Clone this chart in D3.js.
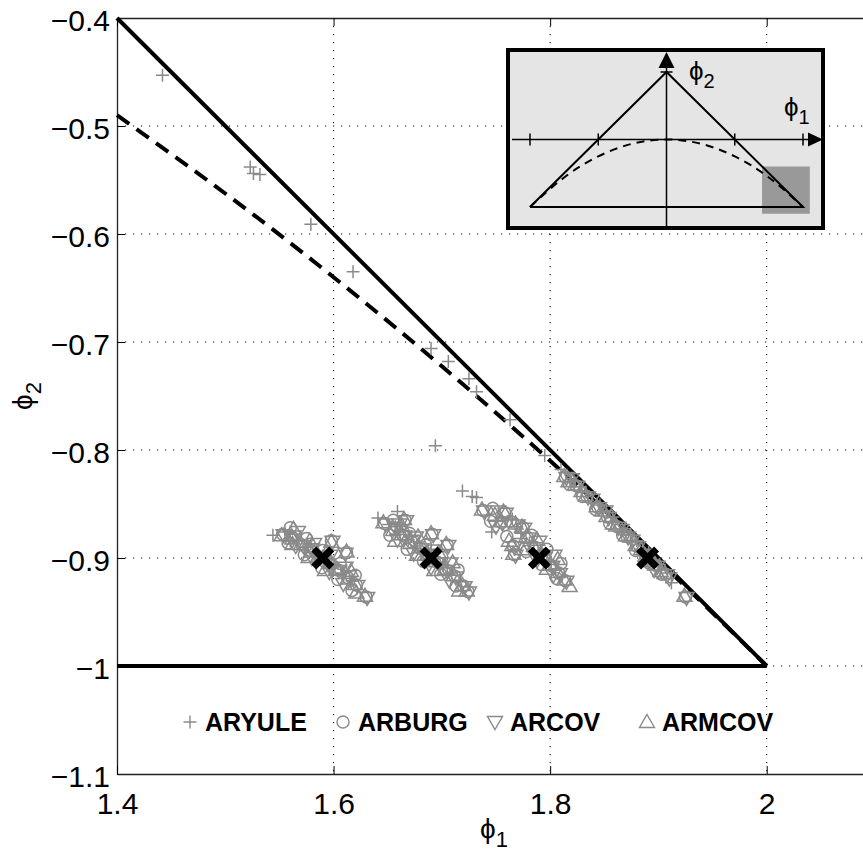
<!DOCTYPE html>
<html>
<head>
<meta charset="utf-8">
<script src="https://cdn.jsdelivr.net/npm/d3@7"></script>
<style>
  body { margin: 0; background: #fff; }
  svg { display: block; font-family: "Liberation Sans", Arial, sans-serif; }
</style>
</head>
<body>
<svg id="chart" width="863" height="853"></svg>
<script>
// ---- data ----
var xTicks = [1.4, 1.6, 1.8, 2.0];
var xTickLabels = ["1.4", "1.6", "1.8", "2"];
var yTicks = [-0.4, -0.5, -0.6, -0.7, -0.8, -0.9, -1.0, -1.1];
var yTickLabels = ["\u22120.4", "\u22120.5", "\u22120.6", "\u22120.7", "\u22120.8", "\u22120.9", "\u22121", "\u22121.1"];

// stationarity boundary (solid) and real/complex root boundary (dashed)
var triangleSide = [[1.4, -0.4], [2.0, -1.0]];
var triangleBase = [[1.4, -1.0], [2.0, -1.0]];
var dashedPhi1 = [1.4, 1.5, 1.6, 1.7, 1.8, 1.9, 2.0];
var dashedPhi2 = [-0.49, -0.5625, -0.64, -0.7225, -0.81, -0.9025, -1.0];

// true parameters
var truePoints = [[1.59, -0.9], [1.69, -0.9], [1.79, -0.9], [1.89, -0.9]];

var aryule = [
  [1.442, -0.453], [1.523, -0.538], [1.526, -0.544], [1.532, -0.545], [1.579, -0.591],
  [1.618, -0.635], [1.690, -0.706], [1.706, -0.718], [1.725, -0.734], [1.732, -0.746],
  [1.694, -0.796], [1.719, -0.838], [1.728, -0.843], [1.763, -0.772], [1.795, -0.805],
  [1.544, -0.879], [1.555, -0.876], [1.566, -0.884], [1.575, -0.890], [1.583, -0.896],
  [1.591, -0.902], [1.600, -0.908], [1.608, -0.914], [1.617, -0.921],
  [1.560, -0.884], [1.579, -0.887], [1.596, -0.910], [1.612, -0.912],
  [1.641, -0.863], [1.659, -0.857], [1.651, -0.869], [1.661, -0.876], [1.669, -0.883],
  [1.677, -0.889], [1.685, -0.894], [1.693, -0.901], [1.701, -0.907], [1.709, -0.914], [1.716, -0.921],
  [1.657, -0.871], [1.672, -0.880], [1.690, -0.892], [1.705, -0.909],
  [1.732, -0.844], [1.746, -0.876], [1.765, -0.864], [1.773, -0.877], [1.781, -0.886],
  [1.789, -0.894], [1.797, -0.903], [1.805, -0.911],
  [1.769, -0.871], [1.785, -0.893], [1.801, -0.904],
  [1.810, -0.818], [1.822, -0.829], [1.833, -0.839], [1.846, -0.851], [1.858, -0.862],
  [1.869, -0.873], [1.880, -0.884], [1.891, -0.895], [1.901, -0.906], [1.912, -0.923],
  [1.827, -0.834], [1.852, -0.856], [1.874, -0.879], [1.896, -0.902]
];
var arburg = [
  [1.553, -0.878], [1.562, -0.881], [1.571, -0.888], [1.579, -0.893], [1.587, -0.899], [1.596, -0.905],
  [1.598, -0.884], [1.604, -0.911], [1.612, -0.895], [1.613, -0.918], [1.621, -0.925], [1.630, -0.936],
  [1.560, -0.872], [1.575, -0.882], [1.590, -0.893], [1.606, -0.905], [1.620, -0.916],
  [1.558, -0.886], [1.573, -0.897], [1.589, -0.909], [1.604, -0.920], [1.617, -0.930],
  [1.647, -0.868], [1.656, -0.873], [1.666, -0.865], [1.664, -0.879], [1.672, -0.885], [1.680, -0.891],
  [1.688, -0.897], [1.691, -0.878], [1.696, -0.904], [1.705, -0.888], [1.704, -0.911], [1.712, -0.917],
  [1.720, -0.926], [1.724, -0.931],
  [1.655, -0.865], [1.670, -0.877], [1.685, -0.888], [1.700, -0.899], [1.715, -0.911],
  [1.652, -0.879], [1.668, -0.892], [1.683, -0.903], [1.699, -0.915], [1.713, -0.926],
  [1.738, -0.856], [1.758, -0.858], [1.755, -0.867], [1.775, -0.872], [1.766, -0.889], [1.767, -0.897],
  [1.779, -0.881], [1.786, -0.890], [1.794, -0.899], [1.801, -0.907], [1.808, -0.914], [1.814, -0.921],
  [1.747, -0.854], [1.763, -0.866], [1.783, -0.879], [1.797, -0.892], [1.810, -0.905],
  [1.745, -0.866], [1.760, -0.880], [1.778, -0.894], [1.792, -0.906], [1.806, -0.919],
  [1.814, -0.825], [1.824, -0.833], [1.834, -0.843], [1.844, -0.853], [1.853, -0.862], [1.862, -0.871],
  [1.871, -0.880], [1.880, -0.889], [1.889, -0.899], [1.898, -0.907], [1.907, -0.915], [1.925, -0.936],
  [1.818, -0.832], [1.830, -0.843], [1.842, -0.855], [1.855, -0.868], [1.867, -0.879], [1.879, -0.893],
  [1.892, -0.905], [1.903, -0.915]
];
var arcov = [
  [1.554, -0.879], [1.563, -0.880], [1.572, -0.889], [1.580, -0.892], [1.588, -0.900], [1.595, -0.906],
  [1.599, -0.885], [1.605, -0.912], [1.611, -0.896], [1.614, -0.917], [1.622, -0.926], [1.631, -0.937],
  [1.567, -0.876], [1.582, -0.887], [1.597, -0.898], [1.611, -0.909],
  [1.565, -0.889], [1.580, -0.900], [1.596, -0.913], [1.609, -0.924],
  [1.648, -0.869], [1.657, -0.872], [1.667, -0.866], [1.665, -0.880], [1.673, -0.884], [1.681, -0.892],
  [1.689, -0.898], [1.692, -0.879], [1.697, -0.905], [1.706, -0.889], [1.705, -0.912], [1.713, -0.918],
  [1.721, -0.927], [1.725, -0.932],
  [1.661, -0.869], [1.676, -0.881], [1.693, -0.893], [1.708, -0.905],
  [1.659, -0.883], [1.674, -0.896], [1.690, -0.909], [1.707, -0.921],
  [1.739, -0.857], [1.759, -0.859], [1.756, -0.868], [1.776, -0.873], [1.767, -0.890], [1.768, -0.898],
  [1.780, -0.882], [1.787, -0.891], [1.795, -0.900], [1.802, -0.908], [1.809, -0.915], [1.815, -0.922],
  [1.752, -0.857], [1.770, -0.870], [1.790, -0.885], [1.804, -0.898],
  [1.750, -0.871], [1.772, -0.887], [1.788, -0.902], [1.803, -0.916],
  [1.815, -0.826], [1.825, -0.834], [1.835, -0.844], [1.845, -0.854], [1.854, -0.863], [1.863, -0.872],
  [1.872, -0.881], [1.881, -0.890], [1.890, -0.900], [1.899, -0.908], [1.908, -0.916], [1.926, -0.937],
  [1.820, -0.827], [1.839, -0.846], [1.851, -0.857], [1.866, -0.874], [1.876, -0.884], [1.886, -0.897],
  [1.896, -0.911], [1.910, -0.919]
];
var armcov = [
  [1.552, -0.879], [1.562, -0.882], [1.570, -0.887], [1.579, -0.894], [1.586, -0.898], [1.597, -0.904],
  [1.598, -0.885], [1.603, -0.910], [1.612, -0.894], [1.613, -0.919], [1.620, -0.924], [1.629, -0.935],
  [1.563, -0.873], [1.578, -0.884], [1.593, -0.896], [1.616, -0.912],
  [1.562, -0.887], [1.577, -0.899], [1.592, -0.911], [1.621, -0.932],
  [1.646, -0.867], [1.655, -0.874], [1.665, -0.864], [1.663, -0.878], [1.671, -0.886], [1.679, -0.890],
  [1.687, -0.896], [1.690, -0.877], [1.695, -0.903], [1.704, -0.887], [1.703, -0.910], [1.711, -0.916],
  [1.719, -0.925], [1.723, -0.930],
  [1.663, -0.870], [1.678, -0.880], [1.697, -0.895], [1.710, -0.904],
  [1.657, -0.884], [1.677, -0.897], [1.693, -0.911], [1.716, -0.930],
  [1.737, -0.855], [1.757, -0.857], [1.754, -0.866], [1.774, -0.871], [1.765, -0.888], [1.766, -0.896],
  [1.778, -0.880], [1.785, -0.889], [1.793, -0.898], [1.800, -0.906], [1.807, -0.913], [1.813, -0.920],
  [1.749, -0.860], [1.768, -0.868], [1.788, -0.883], [1.807, -0.901],
  [1.762, -0.884], [1.774, -0.892], [1.797, -0.910], [1.818, -0.926],
  [1.813, -0.824], [1.823, -0.832], [1.833, -0.842], [1.843, -0.852], [1.852, -0.861], [1.861, -0.870],
  [1.870, -0.879], [1.879, -0.888], [1.888, -0.898], [1.897, -0.906], [1.906, -0.914], [1.924, -0.935],
  [1.817, -0.829], [1.829, -0.838], [1.848, -0.856], [1.858, -0.868], [1.874, -0.880], [1.884, -0.892],
  [1.894, -0.903], [1.902, -0.912]
];

var seriesNames = ["ARYULE", "ARBURG", "ARCOV", "ARMCOV"];
var seriesShapes = ["plus", "circle", "tridown", "triup"];

// inset schematic (phi1 in [-2,2], phi2 in [-1,1])
var insetTriangle = [[-2, -1], [0, 1], [2, -1], [-2, -1]];
var insetParabPhi1 = [-2, -1.5, -1, -0.5, 0, 0.5, 1, 1.5, 2];
var insetParabPhi2 = [-1, -0.5625, -0.25, -0.0625, 0, -0.0625, -0.25, -0.5625, -1];
var insetTicks = [-2, -1, 1, 2];
var insetZoom = {phi1: [1.4, 2.1], phi2: [-1.1, -0.4]};

// ---- drawing ----
var svg = d3.select("#chart");
var x = d3.scaleLinear().domain([1.4, 2.1]).range([117, 875]);
var y = d3.scaleLinear().domain([-1.1, -0.4]).range([774, 18]);
var grey = "#8a8a8a";
var PHI = "\u03d5";

var shapePath = {
  plus: "M-6.5,0H6.5M0,-6.5V6.5",
  circle: "M6,0A6,6 0 1,1 -6,0A6,6 0 1,1 6,0Z",
  tridown: "M0,7.5L7.5,-5.5L-7.5,-5.5Z",
  triup: "M0,-7.5L7.5,5.5L-7.5,5.5Z"
};

// grid
var grid = svg.append("g").attr("stroke", "#000").attr("stroke-width", 1)
  .attr("stroke-dasharray", "1.2,6.8");
grid.selectAll(".gx").data(xTicks.slice(1)).enter().append("line")
  .attr("x1", function(d){return x(d)}).attr("x2", function(d){return x(d)})
  .attr("y1", y(-0.4)).attr("y2", y(-1.1));
grid.selectAll(".gy").data(yTicks.slice(1, -1)).enter().append("line")
  .attr("y1", function(d){return y(d)}).attr("y2", function(d){return y(d)})
  .attr("x1", x(1.4)).attr("x2", x(2.1));

// axes
var fontTicks = 30;
var yAxis = d3.axisLeft(y).tickValues(yTicks)
  .tickFormat(function(d, i){return yTickLabels[i]})
  .tickSizeInner(-8).tickSizeOuter(0).tickPadding(7);
var gy = svg.append("g").attr("transform", "translate(" + x(1.4) + ",0)").call(yAxis);
gy.selectAll("text").attr("font-size", fontTicks).attr("dy", "0.43em").attr("fill", "#000")
  .style("font-family", "'Liberation Sans', Arial, sans-serif");

var xAxis = d3.axisBottom(x).tickValues(xTicks)
  .tickFormat(function(d, i){return xTickLabels[i]})
  .tickSizeInner(-8).tickSizeOuter(0).tickPadding(19);
var gx = svg.append("g").attr("transform", "translate(0," + y(-1.1) + ")").call(xAxis);
gx.selectAll("text").attr("font-size", fontTicks).attr("fill", "#000")
  .style("font-family", "'Liberation Sans', Arial, sans-serif");

var xTop = d3.axisTop(x).tickValues(xTicks).tickFormat("").tickSizeInner(-8).tickSizeOuter(0);
svg.append("g").attr("transform", "translate(0," + y(-0.4) + ")").call(xTop);
svg.selectAll(".domain").attr("stroke", "#222").attr("stroke-width", 1.3);

// axis labels
var xl = svg.append("text").attr("x", 494).attr("y", 838).attr("text-anchor", "middle")
  .attr("font-size", 28);
xl.append("tspan").text(PHI);
xl.append("tspan").attr("font-size", 22).attr("dy", 9).text("1");

var yl = svg.append("text").attr("transform", "translate(32,396) rotate(-90)")
  .attr("text-anchor", "middle").attr("font-size", 28);
yl.append("tspan").text(PHI);
yl.append("tspan").attr("font-size", 22).attr("dy", 9).text("2");

// boundary lines
var line = d3.line().x(function(d){return x(d[0])}).y(function(d){return y(d[1])});
svg.append("path").attr("d", line(triangleSide)).attr("fill", "none")
  .attr("stroke", "#000").attr("stroke-width", 4);
svg.append("path").attr("d", line(triangleBase)).attr("fill", "none")
  .attr("stroke", "#000").attr("stroke-width", 4);
var dashed = d3.zip(dashedPhi1, dashedPhi2);
svg.append("path").attr("d", line.curve(d3.curveNatural)(dashed)).attr("fill", "none")
  .attr("stroke", "#000").attr("stroke-width", 4).attr("stroke-dasharray", "15,9");
line.curve(d3.curveLinear);

// estimates
var allSeries = [aryule, arburg, arcov, armcov];
allSeries.forEach(function(data, k){
  svg.append("g").selectAll("path")
    .data(data)
    .enter()
    .append("path")
    .attr("transform", function(d){return "translate(" + x(d[0]) + "," + y(d[1]) + ")"})
    .attr("d", shapePath[seriesShapes[k]])
    .attr("fill", "none")
    .attr("stroke", grey)
    .attr("stroke-width", 1.5);
});

// true values
svg.append("g").selectAll("path")
  .data(truePoints)
  .enter()
  .append("path")
  .attr("transform", function(d){return "translate(" + x(d[0]) + "," + y(d[1]) + ")"})
  .attr("d", "M-9,-9L9,9M-9,9L9,-9")
  .attr("stroke", "#000").attr("stroke-width", 7);

// legend
var legendX = [190, 343, 495, 647];
var lg = svg.append("g");
seriesNames.forEach(function(name, k){
  lg.append("path").attr("transform", "translate(" + legendX[k] + ",722)")
    .attr("d", shapePath[seriesShapes[k]]).attr("fill", "none")
    .attr("stroke", grey).attr("stroke-width", 1.4);
  lg.append("text").attr("x", legendX[k] + 15).attr("y", 731)
    .attr("font-size", 25).attr("font-weight", "bold").text(name);
});

// inset
var ix = d3.scaleLinear().domain([-2, 2]).range([530, 803]);
var iy = d3.scaleLinear().domain([-1, 1]).range([207, 72]);
var inset = svg.append("g");
inset.append("rect").attr("x", 508).attr("y", 50).attr("width", 315).attr("height", 178)
  .attr("fill", "#e5e5e5").attr("stroke", "#000").attr("stroke-width", 4);
inset.append("rect")
  .attr("x", ix(insetZoom.phi1[0])).attr("y", iy(insetZoom.phi2[1]))
  .attr("width", ix(insetZoom.phi1[1]) - ix(insetZoom.phi1[0]))
  .attr("height", iy(insetZoom.phi2[0]) - iy(insetZoom.phi2[1]))
  .attr("fill", "#999");
// axes of inset
inset.append("line").attr("x1", 512).attr("x2", 810).attr("y1", iy(0)).attr("y2", iy(0))
  .attr("stroke", "#000").attr("stroke-width", 1.5);
inset.append("path").attr("d", "M808," + (iy(0) - 7) + "L823," + iy(0) + "L808," + (iy(0) + 7) + "Z");
inset.append("line").attr("x1", ix(0)).attr("x2", ix(0)).attr("y1", 228).attr("y2", 64)
  .attr("stroke", "#000").attr("stroke-width", 1.5);
inset.append("path").attr("d", "M" + (ix(0) - 8) + ",68L" + ix(0) + ",52L" + (ix(0) + 8) + ",68Z");
inset.selectAll(".itick").data(insetTicks).enter().append("line")
  .attr("x1", function(d){return ix(d)}).attr("x2", function(d){return ix(d)})
  .attr("y1", iy(0) - 6).attr("y2", iy(0) + 6)
  .attr("stroke", "#000").attr("stroke-width", 1.5);
inset.append("line").attr("x1", ix(0) - 6).attr("x2", ix(0) + 6).attr("y1", iy(1)).attr("y2", iy(1))
  .attr("stroke", "#000").attr("stroke-width", 1.5);
var iline = d3.line().x(function(d){return ix(d[0])}).y(function(d){return iy(d[1])});
inset.append("path").attr("d", iline(insetTriangle)).attr("fill", "none")
  .attr("stroke", "#000").attr("stroke-width", 2);
inset.append("path").attr("d", iline.curve(d3.curveNatural)(d3.zip(insetParabPhi1, insetParabPhi2)))
  .attr("fill", "none").attr("stroke", "#000").attr("stroke-width", 2)
  .attr("stroke-dasharray", "8,6");
var t2 = inset.append("text").attr("x", 689).attr("y", 80).attr("font-size", 26);
t2.append("tspan").text(PHI);
t2.append("tspan").attr("font-size", 20).attr("dy", 8).text("2");
var t1 = inset.append("text").attr("x", 784).attr("y", 116).attr("font-size", 26);
t1.append("tspan").text(PHI);
t1.append("tspan").attr("font-size", 20).attr("dy", 8).text("1");
</script>
</body>
</html>
